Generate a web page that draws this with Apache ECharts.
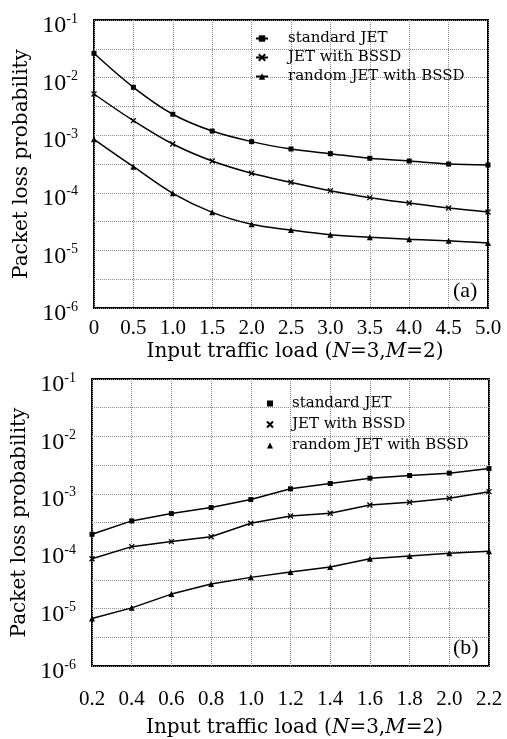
<!DOCTYPE html>
<html><head><meta charset="utf-8">
<script src="https://cdn.jsdelivr.net/npm/echarts@6/dist/echarts.min.js"></script>
<style>html,body{margin:0;padding:0;background:#fff}#c{width:507px;height:739px}</style>
</head><body><div id="c"></div>
<script>
const seriesNames = ['standard JET', 'JET with BSSD', 'random JET with BSSD'];

// Panel (a)
const xA = [0, 0.5, 1.0, 1.5, 2.0, 2.5, 3.0, 3.5, 4.0, 4.5, 5.0];
const aStandard = [0.0264, 0.00678, 0.00231, 0.00118, 0.000773, 0.000576, 0.000478, 0.000397, 0.000356, 0.000316, 0.000304];
const aBSSD     = [0.00519, 0.00179, 0.000703, 0.000356, 0.000218, 0.000152, 0.000109, 0.0000824, 0.0000665, 0.0000545, 0.0000464];
const aRandom   = [0.000847, 0.000284, 0.000098, 0.0000458, 0.0000284, 0.0000226, 0.0000187, 0.0000169, 0.0000156, 0.0000147, 0.0000134];

// Panel (b)
const xB = [0.2, 0.4, 0.6, 0.8, 1.0, 1.2, 1.4, 1.6, 1.8, 2.0, 2.2];
const bStandard = [0.000197, 0.000337, 0.000452, 0.000575, 0.000793, 0.00122, 0.00151, 0.00187, 0.00208, 0.00229, 0.00275];
const bBSSD     = [0.000074, 0.00012, 0.000147, 0.000179, 0.000307, 0.000411, 0.000458, 0.00064, 0.000712, 0.000837, 0.00109];
const bRandom   = [0.00000674, 0.0000103, 0.0000179, 0.0000268, 0.000035, 0.0000433, 0.000053, 0.000074, 0.0000824, 0.0000918, 0.0000995];

// Axis ticks
const yExpMin = -6, yExpMax = -1;
const xTicksA = ['0', '0.5', '1.0', '1.5', '2.0', '2.5', '3.0', '3.5', '4.0', '4.5', '5.0'];
const xTicksB = ['0.2', '0.4', '0.6', '0.8', '1.0', '1.2', '1.4', '1.6', '1.8', '2.0', '2.2'];
const xTitle = 'Input traffic load ({i|N}=3,{i|M}=2)';
const yTitle = 'Packet loss probability';

const FONT = 'Liberation Serif';
const WFONT = 'DejaVu Serif';
const toPts = (xs, ys) => xs.map((x, i) => [x, Math.log10(ys[i])]);
const xSym = 'path://M0,0L10,10M10,0L0,10';

function yAxis(gi) {
  return {
    type: 'value', gridIndex: gi, min: yExpMin, max: yExpMax, interval: 0.5,
    axisLine: {show: false}, axisTick: {show: false},
    splitLine: {show: true, lineStyle: {type: 'dotted', color: '#8a8a8a', width: 1}},
    axisLabel: {
      margin: 16, color: '#000', padding: [12, 0, 0, 0],
      formatter: v => Number.isInteger(v) ? '{b|10}{s|' + v + '}' : '',
      rich: {
        b: {fontFamily: FONT, fontSize: 24, color: '#000'},
        s: {fontFamily: FONT, fontSize: 14, color: '#000', padding: [0, 0, 14, 0]}
      }
    },
    name: yTitle, nameLocation: 'middle', nameGap: 60,
    nameTextStyle: {fontFamily: WFONT, fontSize: 20, color: '#000'}
  };
}
function xAxis(gi, min, max, interval, labels, margin, gap) {
  return {
    type: 'value', gridIndex: gi, min: min, max: max, interval: interval,
    axisLine: {show: false}, axisTick: {show: false},
    splitLine: {show: true, lineStyle: {type: 'dotted', color: '#8a8a8a', width: 1}},
    axisLabel: {
      margin: margin, color: '#000', fontFamily: FONT, fontSize: 21,
      formatter: v => labels[Math.round((v - min) / interval)] || ''
    },
    name: xTitle, nameLocation: 'middle', nameGap: gap,
    nameTextStyle: {fontFamily: WFONT, fontSize: 20, color: '#000', padding: [0, 0, 0, 8],
      rich: {i: {fontFamily: WFONT, fontSize: 20, fontStyle: 'italic', color: '#000'}}}
  };
}
function line(name, gi, pts, symbol, size, smooth, stroke) {
  return {
    name: name, type: 'line', xAxisIndex: gi, yAxisIndex: gi, data: pts,
    smooth: smooth ? 0.35 : false, symbol: symbol, symbolSize: size,
    showSymbol: true, animation: false,
    lineStyle: {color: '#000', width: 1.5},
    itemStyle: {color: '#000', borderColor: '#000', borderWidth: stroke ? 1.3 : 0}
  };
}

const chart = echarts.init(document.getElementById('c'), null, {renderer: 'canvas'});
chart.setOption({
  backgroundColor: '#fff',
  animation: false,
  grid: [
    {left: 94, top: 20, width: 394, height: 288, show: true, borderColor: '#000', borderWidth: 2, backgroundColor: 'transparent'},
    {left: 92, top: 379, width: 397, height: 287, show: true, borderColor: '#000', borderWidth: 2, backgroundColor: 'transparent'}
  ],
  xAxis: [xAxis(0, 0, 5, 0.5, xTicksA, 10, 34), xAxis(1, 0.2, 2.2, 0.2, xTicksB, 23, 52)],
  yAxis: [yAxis(0), yAxis(1)],
  legend: [
    {orient: 'vertical', left: 250, top: 26, itemWidth: 12, itemHeight: 8, itemGap: 4,
     data: seriesNames,
     textStyle: {fontFamily: WFONT, fontSize: 15, color: '#000', padding: [0, 0, 0, 15]}},
    {orient: 'vertical', left: 261, top: 391, itemWidth: 6, itemHeight: 6, itemGap: 6,
     data: [{name: seriesNames[0], icon: 'rect'}, {name: seriesNames[1], icon: xSym}, {name: seriesNames[2], icon: 'triangle'}],
     textStyle: {fontFamily: WFONT, fontSize: 15, color: '#000', padding: [0, 0, 0, 14]}}
  ],
  graphic: [
    {type: 'text', left: 453, top: 280, style: {text: '(a)', font: '22px "Liberation Serif"', fill: '#000'}},
    {type: 'text', left: 453, top: 637, style: {text: '(b)', font: '22px "Liberation Serif"', fill: '#000'}}
  ],
  series: [
    line(seriesNames[0], 0, toPts(xA, aStandard), 'rect', 5, true, false),
    line(seriesNames[1], 0, toPts(xA, aBSSD), xSym, 5, true, true),
    line(seriesNames[2], 0, toPts(xA, aRandom), 'triangle', 6, true, false),
    line(seriesNames[0], 1, toPts(xB, bStandard), 'rect', 5, false, false),
    line(seriesNames[1], 1, toPts(xB, bBSSD), xSym, 5, false, true),
    line(seriesNames[2], 1, toPts(xB, bRandom), 'triangle', 6, false, false)
  ]
});
</script>
</body></html>
